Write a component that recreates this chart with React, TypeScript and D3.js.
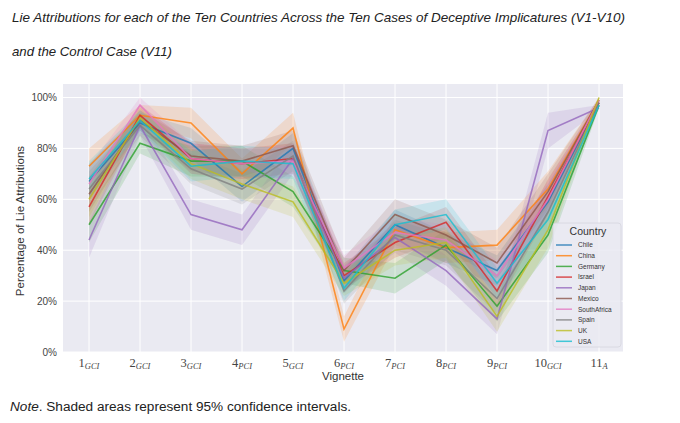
import * as d3 from 'd3'
import React from 'react'

// vignettes on the x axis and their subscripts
const vignettes = [1, 2, 3, 4, 5, 6, 7, 8, 9, 10, 11]
const vignetteSubs = ['GCI', 'GCI', 'GCI', 'PCI', 'GCI', 'PCI', 'PCI', 'PCI', 'PCI', 'GCI', 'A']

const countries = ['Chile', 'China', 'Germany', 'Israel', 'Japan', 'Mexico', 'SouthAfrica', 'Spain', 'UK', 'USA']
const palette = ['#1f77b4', '#ff7f0e', '#2ca02c', '#d62728', '#9467bd', '#8c564b', '#e377c2', '#7f7f7f', '#bcbd22', '#17becf']

// % lie attributions
const chile = [67, 90, 82, 65, 80, 28, 50, 41, 32, 59, 98]
const china = [73, 93, 90, 70, 88, 9, 48, 41, 42, 64, 99]
const germany = [50, 82, 75, 75, 63, 32, 29, 42, 18, 46, 97]
const israel = [57, 93, 76, 74, 76, 30, 43, 51, 24, 61, 98]
const japan = [44, 89, 54, 48, 76, 29, 45, 32, 13, 87, 96]
const mexico = [62, 91, 77, 75, 81, 32, 54, 46, 35, 63, 99]
const southAfrica = [66, 97, 76, 74, 75, 33, 47, 44, 30, 60, 99]
const spain = [64, 89, 72, 64, 77, 24, 46, 40, 21, 55, 98]
const uk = [60, 92, 74, 66, 59, 27, 40, 43, 14, 48, 100]
const usa = [68, 91, 73, 75, 74, 25, 50, 54, 27, 52, 97]

// approx half width of the 95% CI bands per vignette
const ciHalf = [7, 4, 6, 6, 6, 5, 6, 6, 6, 7, 1]

const yTicks = [0, 20, 40, 60, 80, 100]

const allValues = [chile, china, germany, israel, japan, mexico, southAfrica, spain, uk, usa]

const App = () => {
    const left = 63, right = 623, top = 84, bottom = 352
    const x = d3.scaleLinear().domain([0.49, 11.47]).range([left, right])
    const y = d3.scaleLinear().domain([0, 105.3]).range([bottom, top])
    const clamp = (v: number) => Math.max(0, Math.min(100, v))

    const series = countries.map((c, i) => ({ name: c, color: palette[i], values: allValues[i] }))

    const line = d3.line<number>()
        .x((d, i) => x(vignettes[i]))
        .y(d => y(d))
    const band = d3.area<number>()
        .x((d, i) => x(vignettes[i]))
        .y0((d, i) => y(clamp(d - ciHalf[i])))
        .y1((d, i) => y(clamp(d + ciHalf[i])))

    const legendX = 553, legendY = 223
    return (
        <svg width={680} height={423} style={{ position: 'absolute', left: 0, top: 0, background: '#fff' }}
            fontFamily="'Liberation Sans', Arial, sans-serif">
            <text x={12} y={22} fontSize={13} fontStyle="italic" fill="#222" textLength={613} lengthAdjust="spacingAndGlyphs">
                Lie Attributions for each of the Ten Countries Across the Ten Cases of Deceptive Implicatures (V1-V10)
            </text>
            <text x={12} y={56} fontSize={13} fontStyle="italic" fill="#222" textLength={160} lengthAdjust="spacingAndGlyphs">
                and the Control Case (V11)
            </text>

            <rect x={left} y={top} width={right - left} height={bottom - top} fill="#eaeaf2" />
            {yTicks.map(t => (
                <line key={'gy' + t} x1={left} x2={right} y1={y(t)} y2={y(t)} stroke="#fff" strokeWidth={1} />
            ))}
            {vignettes.map(v => (
                <line key={'gx' + v} x1={x(v)} x2={x(v)} y1={top} y2={bottom} stroke="#fff" strokeWidth={1} />
            ))}

            {series.map(s => (
                <path key={'b' + s.name} d={band(s.values) || ''} fill={s.color} fillOpacity={0.16} stroke="none" />
            ))}
            {series.map(s => (
                <path key={'l' + s.name} d={line(s.values) || ''} fill="none" stroke={s.color} strokeWidth={1.6} strokeOpacity={0.8} />
            ))}

            {yTicks.map(t => (
                <text key={'ty' + t} x={57} y={y(t) + 3.5} fontSize={10} fill="#444" textAnchor="end">{t}%</text>
            ))}
            <text transform={`translate(24 ${(top + bottom) / 2 + 3}) rotate(-90)`} fontSize={11.5} fill="#333" textAnchor="middle">
                Percentage of Lie Attributions
            </text>

            {vignettes.map((v, i) => (
                <text key={'tx' + v} x={x(v)} y={367} textAnchor="middle" fill="#444" fontFamily="'Liberation Serif', serif">
                    <tspan fontSize={12.5}>{v}</tspan>
                    <tspan fontSize={8.5} fontStyle="italic" dy={2}>{vignetteSubs[i]}</tspan>
                </text>
            ))}
            <text x={343} y={380} fontSize={11.5} fill="#333" textAnchor="middle">Vignette</text>

            <rect x={legendX} y={legendY} width={68} height={124} rx={3} fill="#eaeaf2" fillOpacity={0.85} stroke="#d6d6de" strokeWidth={0.8} />
            <text x={legendX + 35} y={legendY + 12} fontSize={10.5} fill="#333" textAnchor="middle">Country</text>
            {series.map((s, i) => (
                <g key={'lg' + s.name} transform={`translate(${legendX + 3} ${legendY + 22 + i * 10.7})`}>
                    <line x1={0} x2={16} y1={0} y2={0} stroke={s.color} strokeWidth={1.5} strokeOpacity={0.8} />
                    <text x={22} y={2.3} fontSize={6.5} fill="#333">{s.name}</text>
                </g>
            ))}

            <text x={10} y={411} fontSize={12.5} fill="#222" textLength={341} lengthAdjust="spacingAndGlyphs">
                <tspan fontStyle="italic">Note</tspan>. Shaded areas represent 95% confidence intervals.
            </text>
        </svg>
    )
}

export default App
